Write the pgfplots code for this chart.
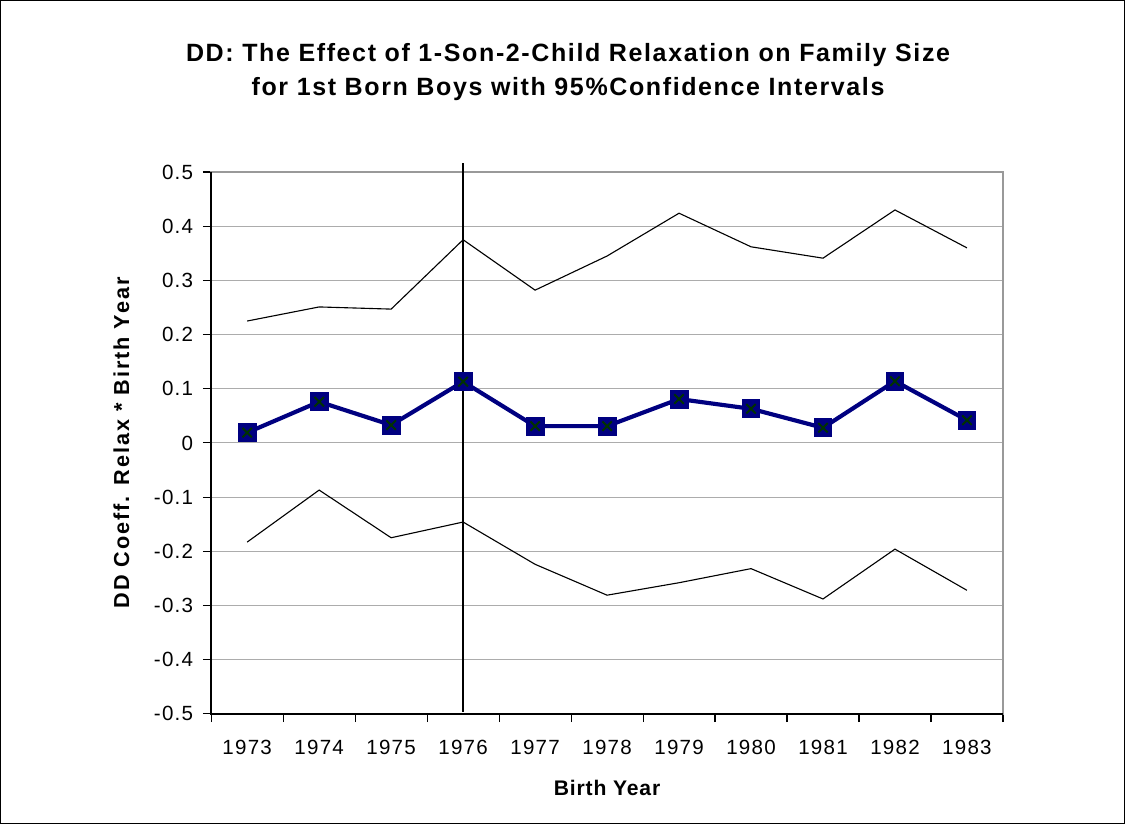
\documentclass[border=0pt]{standalone}
\usepackage{pgfplots}
\pgfplotsset{compat=1.18}
\usepackage{fontspec}
\setmainfont{Liberation Sans}
\definecolor{navyline}{RGB}{0,0,128}
\definecolor{xgreen}{RGB}{0,50,0}
\begin{document}
\begin{tikzpicture}
% frame of the chart area, 1125x824 px at 0.36pt per px
\draw[line width=0.5pt] (0.2pt,0.2pt) rectangle (404.8pt,296.4pt);
\node[font=\fontsize{9}{12.2}\selectfont\bfseries\addfontfeature{LetterSpace=6.5}, align=center] at (204.5pt,270.6pt)
  {DD: The Effect of 1-Son-2-Child Relaxation on Family Size\\for 1st Born Boys with 95\%Confidence Intervals};
\begin{axis}[
  scale only axis, width=285.1pt, height=195.1pt,
  at={(76pt,39.6pt)}, anchor=south west,
  xmin=-0.5, xmax=10.5, ymin=-0.5, ymax=0.5,
  xtick={0,...,10},
  xticklabels={1973,1974,1975,1976,1977,1978,1979,1980,1981,1982,1983},
  minor xtick={-0.5,0.5,...,10.5},
  major x tick style={draw=none},
  ytick={-0.5,-0.4,...,0.51},
  yticklabel style={/pgf/number format/.cd, fixed, precision=1, assume math mode=true},
  tick align=outside, tick pos=left,
  major tick length=3pt, minor tick length=3pt,
  tick style={black, line width=0.4pt},
  ymajorgrids, grid style={gray!65, line width=0.4pt},
  axis line style={gray!80, line width=0.6pt},
  tick label style={font=\fontsize{7.4}{8}\selectfont\addfontfeature{LetterSpace=6}},
  xticklabel style={yshift=-3pt},
  xlabel style={font=\fontsize{7.6}{8}\selectfont\bfseries\addfontfeature{LetterSpace=4}, yshift=-2.4pt},
  ylabel style={font=\fontsize{7.8}{8}\selectfont\bfseries\addfontfeature{LetterSpace=9}, yshift=2pt},
  xlabel={Birth Year}, ylabel={DD Coeff. Relax * Birth Year},
  clip=false,
]
% upper bound
\addplot[black, line width=0.4pt] coordinates {
  (0,0.225) (1,0.251) (2,0.247) (3,0.375) (4,0.282) (5,0.345)
  (6,0.424) (7,0.362) (8,0.341) (9,0.430) (10,0.360)};
% lower bound
\addplot[black, line width=0.4pt] coordinates {
  (0,-0.183) (1,-0.087) (2,-0.175) (3,-0.146) (4,-0.224) (5,-0.281)
  (6,-0.258) (7,-0.232) (8,-0.288) (9,-0.196) (10,-0.272)};
% point estimate
\addplot[navyline, line width=1.5pt, mark=square*, mark size=3.2pt,
  mark options={fill=navyline, draw=navyline, line width=0.3pt}] coordinates {
  (0,0.019) (1,0.076) (2,0.033) (3,0.113) (4,0.031) (5,0.031)
  (6,0.081) (7,0.063) (8,0.028) (9,0.114) (10,0.042)};
\addplot[draw=none, mark=x, mark size=2.4pt, mark options={xgreen, line width=0.7pt}] coordinates {
  (0,0.019) (1,0.076) (2,0.033) (3,0.113) (4,0.031) (5,0.031)
  (6,0.081) (7,0.063) (8,0.028) (9,0.114) (10,0.042)};
% 1976 policy line
\draw[black, line width=0.8pt] (axis cs:3,0.516) -- (axis cs:3,-0.497);
% black left and bottom spines
\draw[black, line width=0.6pt] (axis cs:-0.5,0.5) -- (axis cs:-0.5,-0.5) -- (axis cs:10.5,-0.5);
\end{axis}
\end{tikzpicture}
\end{document}
